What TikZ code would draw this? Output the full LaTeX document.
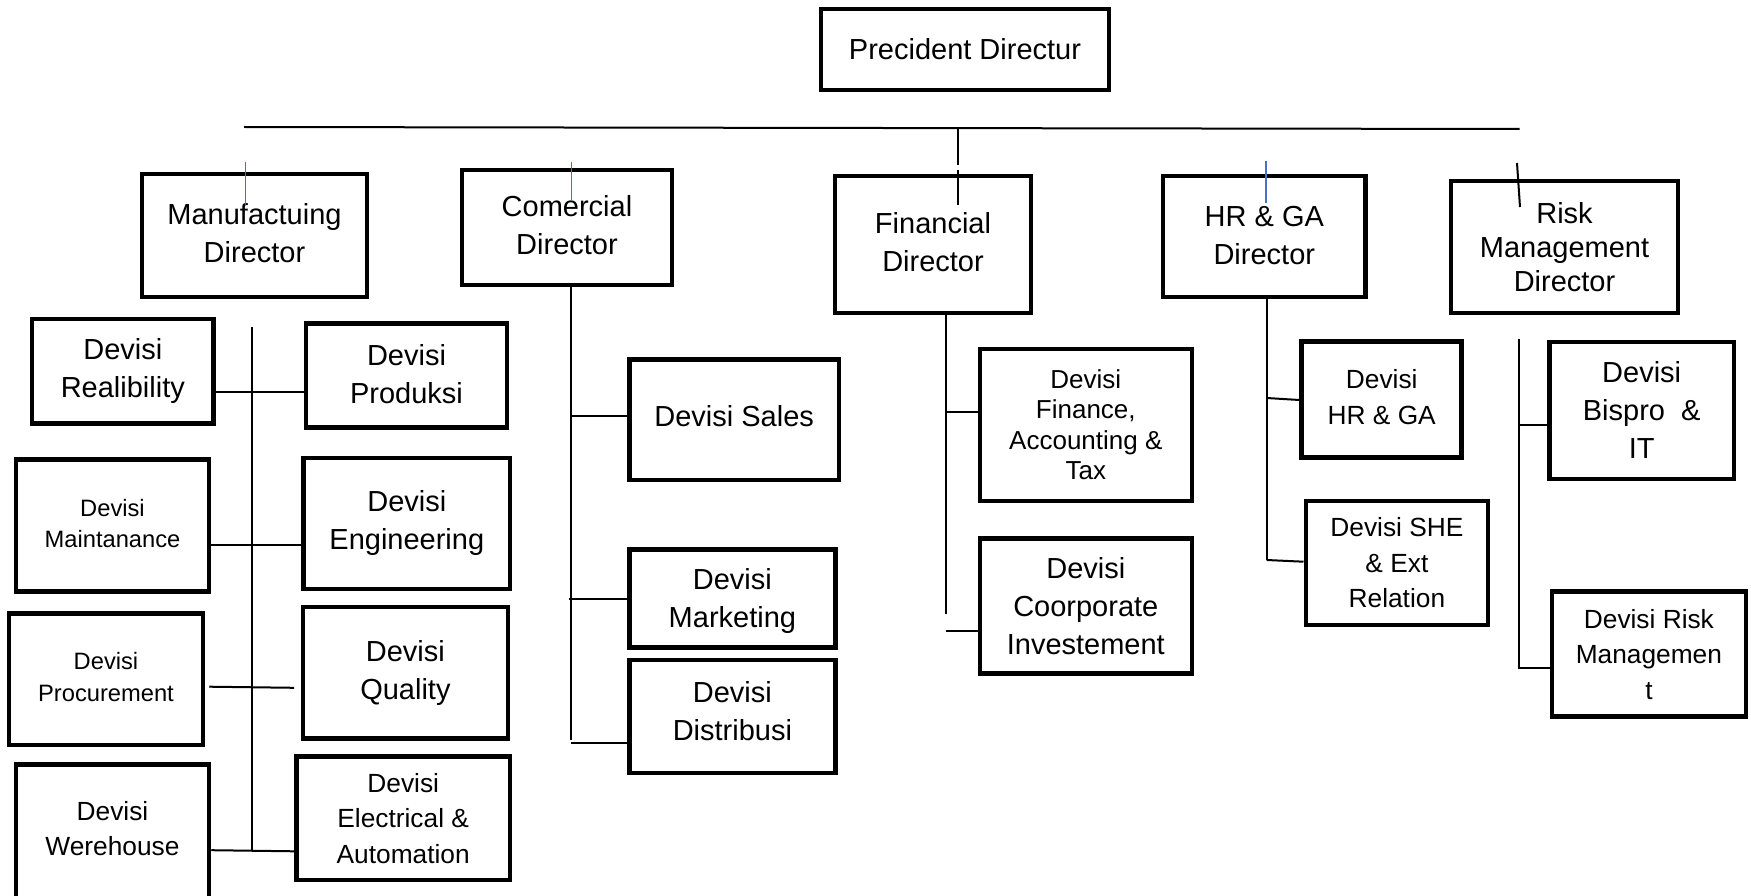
\documentclass[tikz,border=0pt]{standalone}
\usepackage{fontspec}
\setmainfont{Liberation Sans}
\definecolor{stubblue}{RGB}{68,114,196}
\begin{document}
\begin{tikzpicture}[x=1pt,y=-1pt,
  bx/.style={draw=black, line width=4.5pt, inner sep=0pt, align=center, text=black},
  big/.style={font=\fontsize{29}{38}\selectfont},
  mid/.style={font=\fontsize{26.3}{35.5}\selectfont},
  sml/.style={font=\fontsize{23.7}{31.5}\selectfont},
  conn/.style={draw=black, line width=2pt},
  blu/.style={draw=stubblue, line width=1.5pt}]
\useasboundingbox (0,0) rectangle (1751,896);
\fill[white] (0,0) rectangle (1751,896);
\clip (0,0) rectangle (1751,896);

% top level
\node[bx,big,minimum width=288pt,minimum height=81pt,text depth=2pt] (pres) at (965,49.5) {Precident Directur};

% directors
\node[bx,big,minimum width=225pt,minimum height=123pt,text depth=4.4pt] (manu) at (254.5,235.5) {Manufactuing\\Director};
\node[bx,big,minimum width=210pt,minimum height=115pt,text depth=4.4pt] (come) at (567,227.5) {Comercial\\Director};
\node[bx,big,minimum width=196pt,minimum height=137pt,text depth=4.4pt] (fina) at (933,244.5) {Financial\\Director};
\node[bx,big,minimum width=202.5pt,minimum height=121pt,text depth=2pt] (hrga) at (1264.3,236.5) {HR \& GA\\Director};
\node[bx,font=\fontsize{29}{34}\selectfont,minimum width=227pt,minimum height=132pt] (risk) at (1564.5,247) {Risk\\Management\\Director};

% manufacturing divisions
\node[bx,big,minimum width=181.6pt,minimum height=104.6pt] (real) at (122.8,371.3) {Devisi\\Realibility};
\node[bx,big,minimum width=201pt,minimum height=103.8pt,text depth=3.4pt] (prod) at (406.5,375.5) {Devisi\\Produksi};
\node[bx,sml,minimum width=193pt,minimum height=131.9pt,text depth=4.4pt] (main) at (112.5,525.6) {Devisi\\Maintanance};
\node[bx,big,minimum width=206.4pt,minimum height=131.2pt] (engi) at (406.8,523.4) {Devisi\\Engineering};
\node[bx,sml,minimum width=194pt,minimum height=131.2pt,text depth=4.4pt] (proc) at (106,679.3) {Devisi\\Procurement};
\node[bx,big,minimum width=205pt,minimum height=131.2pt] (qual) at (405.4,672.8) {Devisi\\Quality};
\node[bx,mid,minimum width=193pt,minimum height=140pt,text depth=12pt] (wh) at (112.5,834.6) {Devisi\\Werehouse};
\node[bx,mid,minimum width=213.6pt,minimum height=123.5pt,text depth=-4.4pt] (elec) at (403.2,818) {Devisi\\Electrical \&\\Automation};

% commercial divisions
\node[bx,big,minimum width=209.7pt,minimum height=120.7pt,text depth=6.8pt] (sales) at (734.2,419.7) {Devisi Sales};
\node[bx,big,minimum width=206.2pt,minimum height=98.4pt,text depth=0.5pt] (mark) at (732.4,598.5) {Devisi\\Marketing};
\node[bx,big,minimum width=206.2pt,minimum height=112.7pt,text depth=11.2pt] (dist) at (732.4,716.4) {Devisi\\Distribusi};

% financial divisions
\node[bx,font=\fontsize{26}{30.5}\selectfont,minimum width=212.1pt,minimum height=151.7pt] (finat) at (1085.8,424.9) {Devisi\\Finance,\\Accounting \&\\Tax};
\node[bx,big,minimum width=212.1pt,minimum height=135pt] (coor) at (1085.8,605.8) {Devisi\\Coorporate\\Investement};

% HR & GA divisions
\node[bx,mid,minimum width=160pt,minimum height=116pt,text depth=5.6pt] (hrdv) at (1381.7,399.7) {Devisi\\HR \& GA};
\node[bx,mid,minimum width=182.3pt,minimum height=124.3pt,text depth=-4.4pt] (she) at (1396.9,562.9) {Devisi SHE\\\& Ext\\Relation};

% risk divisions
\node[bx,big,minimum width=184.7pt,minimum height=137.3pt] (bisp) at (1641.7,410.4) {Devisi\\Bispro\ \ \&\\IT};
\node[bx,mid,minimum width=194.3pt,minimum height=125pt] (rmdv) at (1648.9,654.2) {Devisi Risk\\Managemen\\t};

% main bus under the president
\coordinate (busL) at (244,127);
\coordinate (busR) at (1519.5,129);
\draw[conn] (busL) -- (busR);
\coordinate (fstub) at (957.5,129.5);
\draw[conn] (fstub) -- ++(0,35.5) ++(0,5) -- ++(0,35);
\coordinate (rstub) at (1517,163);
\draw[conn] (rstub) -- ++(3,44);
\coordinate (mstub) at (245.7,162);
\coordinate (cstub) at (571.7,162);
\coordinate (hstub) at (1266,161);
\draw[blu] (mstub) -- ++(0,43);
\draw[blu] (cstub) -- ++(0,39);
\draw[blu] (hstub) -- ++(0,42);

% manufacturing spine
\coordinate (mtop) at (251.8,327.4);
\coordinate (mbot) at (251.8,850.6);
\draw[conn] (mtop) -- (mbot);
\draw[conn] (real.east |- 0,392.4) -- (prod.west |- 0,392.4);
\draw[conn] (main.east |- 0,545.2) -- (engi.west |- 0,545.2);
\path (proc.east |- 0,686.7) ++(4,0) coordinate (p1)
      (qual.west |- 0,687.8) ++(-6.5,0) coordinate (p2);
\draw[conn] (p1) -- (p2);
\draw[conn] (wh.east |- 0,850.2) -- (elec.west |- 0,851.3);

% commercial spine
\coordinate (cbot) at (571.25,740);
\draw[conn] (come.south -| cbot) -- (cbot);
\draw[conn] (cbot |- 0,416) -- (sales.west |- 0,416);
\draw[conn] (cbot |- 0,599) ++(-2,0) -- (mark.west |- 0,599);
\draw[conn] (cbot |- 0,742.7) -- (dist.west |- 0,742.7);

% financial spine
\coordinate (fbot) at (946.25,614.3);
\draw[conn] (fina.south -| fbot) -- (fbot);
\draw[conn] (fbot |- 0,411.7) -- (finat.west |- 0,411.7);
\draw[conn] (fbot |- 0,630.7) -- (coor.west |- 0,630.7);

% HR & GA spine
\coordinate (hbot) at (1266.7,560);
\draw[conn] (hrga.south -| hbot) -- (hbot);
\draw[conn] (hbot |- 0,398) -- (hrdv.west |- 0,400);
\draw[conn] (hbot) -- (she.west |- 0,561.7);

% risk spine
\coordinate (rtop) at (1519.3,339.3);
\coordinate (rbot) at (1519.3,668.3);
\draw[conn] (rtop) -- (rbot);
\draw[conn] (rtop |- 0,425) ++(-1,0) -- (bisp.west |- 0,425);
\draw[conn] (rbot) ++(-1,0) -- (rmdv.west |- 0,668.3);
\end{tikzpicture}
\end{document}
